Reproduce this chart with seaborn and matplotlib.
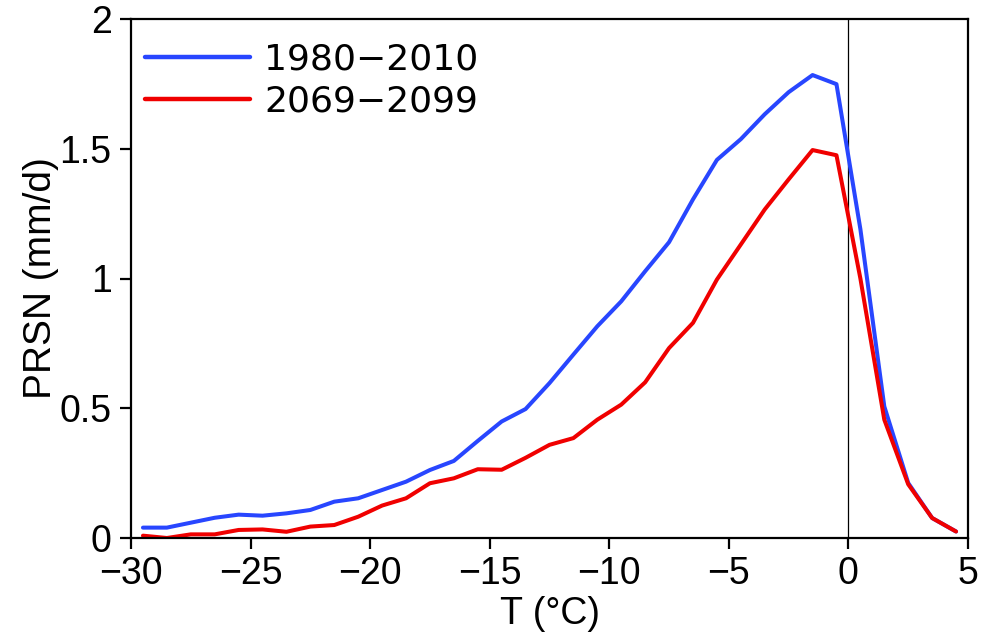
import matplotlib
matplotlib.use("Agg")
import matplotlib.pyplot as plt
import seaborn as sns
import pandas as pd

temps = [-29.5, -28.5, -27.5, -26.5, -25.5, -24.5, -23.5, -22.5, -21.5, -20.5,
         -19.5, -18.5, -17.5, -16.5, -15.5, -14.5, -13.5, -12.5, -11.5, -10.5,
         -9.5, -8.5, -7.5, -6.5, -5.5, -4.5, -3.5, -2.5, -1.5, -0.5,
         0.5, 1.5, 2.5, 3.5, 4.5]
prsn_1980_2010 = [0.040, 0.040, 0.059, 0.078, 0.090, 0.086, 0.095, 0.108, 0.140, 0.153,
                  0.185, 0.217, 0.262, 0.297, 0.374, 0.449, 0.497, 0.597, 0.707, 0.816,
                  0.912, 1.028, 1.140, 1.305, 1.457, 1.537, 1.633, 1.718, 1.784, 1.749,
                  1.190, 0.507, 0.212, 0.077, 0.025]
prsn_2069_2099 = [0.009, 0.000, 0.014, 0.014, 0.031, 0.033, 0.024, 0.044, 0.050, 0.082,
                  0.125, 0.153, 0.211, 0.230, 0.265, 0.263, 0.309, 0.359, 0.385, 0.456,
                  0.514, 0.600, 0.732, 0.829, 0.996, 1.131, 1.266, 1.382, 1.495, 1.475,
                  1.000, 0.456, 0.207, 0.077, 0.025]
periods = ["1980\u22122010", "2069\u22122099"]
colors = ["#2846ff", "#f00000"]
xticks = [-30, -25, -20, -15, -10, -5, 0, 5]
xticklabels = ["\u221230", "\u221225", "\u221220", "\u221215", "\u221210", "\u22125", "0", "5"]
yticks = [0, 0.5, 1, 1.5, 2]
yticklabels = ["0", "0.5", "1", "1.5", "2"]

df = pd.concat([
    pd.DataFrame({"T": temps, "PRSN": prsn_1980_2010, "period": periods[0]}),
    pd.DataFrame({"T": temps, "PRSN": prsn_2069_2099, "period": periods[1]}),
])

sns.set_style("ticks")
plt.rcParams["font.family"] = ["Liberation Sans", "DejaVu Sans"]
plt.rcParams["text.color"] = "black"
plt.rcParams["axes.labelcolor"] = "black"
plt.rcParams["xtick.color"] = "black"
plt.rcParams["ytick.color"] = "black"
plt.rcParams["axes.edgecolor"] = "black"

fig = plt.figure(figsize=(9.95, 6.4), dpi=100)
ax = fig.add_axes([131 / 995, 1 - 538 / 640, (968 - 131) / 995, (538 - 19) / 640])

sns.lineplot(data=df, x="T", y="PRSN", hue="period", palette=colors,
             hue_order=periods, linewidth=2.9, ax=ax, legend=True)

ax.axvline(0, color="black", linewidth=0.9, zorder=1)

ax.set_xlim(-30, 5)
ax.set_ylim(0, 2)
ax.set_xticks(xticks)
ax.set_xticklabels(xticklabels)
ax.set_yticks(yticks)
ax.set_yticklabels(yticklabels)
ax.tick_params(axis="both", direction="out", length=8, width=1.6,
               labelsize=27, top=False, right=False)
ax.tick_params(axis="x", pad=5)
ax.tick_params(axis="y", pad=6)
for s in ax.spines.values():
    s.set_linewidth(1.6)
    s.set_visible(True)

ax.set_xlabel("T (\u00b0C)", fontsize=27, labelpad=3)
ax.set_ylabel("PRSN (mm/d)", fontsize=28, labelpad=0)

leg = ax.legend(loc="upper left", bbox_to_anchor=(0.0, 0.982), frameon=False,
                prop={"family": "DejaVu Sans", "size": 26},
                handlelength=2.9, handletextpad=0.38,
                labelspacing=0.22, borderaxespad=0.0, borderpad=0.4)
for line in leg.get_lines():
    line.set_linewidth(3.2)

fig.savefig("out.png", dpi=100)
